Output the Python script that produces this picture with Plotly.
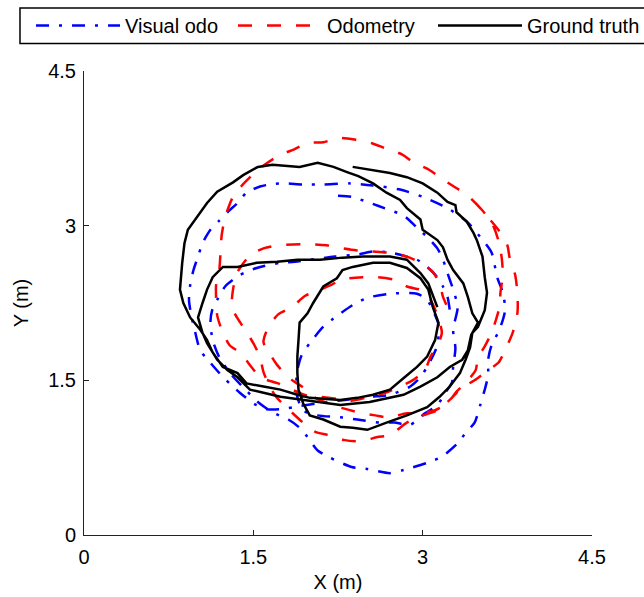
import plotly.graph_objects as go

# ---------------- data (metres) ----------------
vo_x = [2.25, 2.37, 2.51, 2.71, 2.83, 2.95, 3.04, 3.13, 3.18, 3.22, 3.27, 3.31, 3.27, 3.29, 3.27, 3.26,
        3.20, 3.13, 3.02, 2.89, 2.75, 2.62, 2.42, 2.29, 2.07, 1.94, 1.89, 1.88, 1.89, 1.93, 2.00, 2.12,
        2.21, 2.38, 2.51, 2.71, 2.95, 3.04, 3.09, 3.14, 3.13, 3.06, 2.98, 2.89, 2.71, 2.53, 2.31, 2.09,
        1.91, 1.74, 1.62, 1.51, 1.38, 1.29, 1.20, 1.12, 1.03, 0.98, 0.95, 0.93, 0.94, 0.97, 1.01, 1.05,
        1.12, 1.19, 1.27, 1.36, 1.44, 1.56, 1.65, 1.76, 1.94, 2.12, 2.36, 2.56, 2.80, 3.00, 3.22, 3.39,
        3.51, 3.61, 3.66, 3.71, 3.73, 3.68, 3.61, 3.58, 3.58, 3.55, 3.51, 3.46, 3.38, 3.31, 3.17, 3.04,
        2.83, 2.71, 2.51, 2.37, 2.18, 2.07, 1.98, 1.91, 1.81, 1.67, 1.54, 1.43, 1.31, 1.20, 1.14, 1.12,
        1.14, 1.19, 1.25, 1.38, 1.53, 1.74, 1.87, 2.22, 2.42, 2.56, 2.71, 2.86, 2.95, 3.04, 3.13, 3.18,
        3.22, 3.24]
vo_y = [3.29, 3.28, 3.23, 3.15, 3.10, 2.98, 2.89, 2.78, 2.67, 2.54, 2.38, 2.21, 1.99, 1.81, 1.63, 1.48,
        1.38, 1.26, 1.18, 1.07, 1.09, 1.09, 1.12, 1.14, 1.16, 1.21, 1.34, 1.47, 1.60, 1.75, 1.86, 2.02,
        2.10, 2.23, 2.30, 2.34, 2.34, 2.28, 2.18, 2.04, 1.84, 1.67, 1.53, 1.44, 1.36, 1.34, 1.31, 1.28,
        1.25, 1.22, 1.22, 1.27, 1.38, 1.47, 1.57, 1.67, 1.79, 1.99, 2.13, 2.28, 2.42, 2.57, 2.70, 2.83,
        2.96, 3.04, 3.13, 3.22, 3.32, 3.38, 3.40, 3.41, 3.40, 3.40, 3.41, 3.39, 3.35, 3.28, 3.17, 3.04,
        2.89, 2.74, 2.50, 2.35, 2.18, 1.99, 1.84, 1.70, 1.55, 1.41, 1.26, 1.09, 0.99, 0.89, 0.76, 0.70,
        0.63, 0.60, 0.64, 0.66, 0.75, 0.82, 0.95, 1.04, 1.12, 1.19, 1.29, 1.41, 1.55, 1.72, 1.89, 2.07,
        2.20, 2.30, 2.41, 2.52, 2.59, 2.64, 2.65, 2.70, 2.72, 2.75, 2.74, 2.70, 2.67, 2.60, 2.50, 2.41,
        2.31, 2.18]

od_x = [3.47, 3.55, 3.62, 3.67, 3.70, 3.71, 3.69, 3.68, 3.65, 3.61, 3.55, 3.49, 3.47, 3.40, 3.30, 3.22,
        3.11, 2.96, 2.86, 2.69, 2.58, 2.43, 2.29, 2.18, 2.05, 1.93, 1.82, 1.71, 1.65, 1.59, 1.63, 1.72,
        1.84, 1.96, 2.05, 2.18, 2.29, 2.47, 2.60, 2.77, 2.86, 3.00, 3.07, 3.13, 3.17, 3.13, 3.07, 3.02,
        2.91, 2.80, 2.67, 2.53, 2.36, 2.24, 2.09, 1.98, 1.82, 1.72, 1.56, 1.49, 1.38, 1.29, 1.22, 1.18,
        1.17, 1.17, 1.20, 1.21, 1.22, 1.25, 1.32, 1.40, 1.51, 1.60, 1.74, 1.84, 1.98, 2.12, 2.27, 2.42,
        2.55, 2.67, 2.82, 2.91, 3.06, 3.15, 3.29, 3.39, 3.51, 3.58, 3.67, 3.75, 3.77, 3.82, 3.84, 3.84,
        3.80, 3.75, 3.67, 3.58, 3.46, 3.35, 3.24, 3.13, 2.98, 2.86, 2.71, 2.60, 2.45, 2.31, 2.16, 2.05,
        1.94, 1.84, 1.71, 1.65, 1.59, 1.56, 1.51, 1.44, 1.36, 1.31, 1.32, 1.36, 1.47, 1.59, 1.74, 2.00,
        2.15, 2.29, 2.42, 2.56, 2.68, 2.86, 2.98, 3.09, 3.15, 3.18, 3.22]
od_y = [3.22, 3.12, 3.01, 2.86, 2.69, 2.52, 2.36, 2.21, 2.09, 1.96, 1.83, 1.72, 1.60, 1.50, 1.39, 1.28,
        1.21, 1.18, 1.18, 1.14, 1.16, 1.19, 1.23, 1.27, 1.33, 1.44, 1.52, 1.65, 1.75, 1.87, 2.01, 2.14,
        2.21, 2.32, 2.36, 2.42, 2.48, 2.50, 2.50, 2.47, 2.41, 2.37, 2.28, 2.13, 1.96, 1.84, 1.73, 1.60,
        1.50, 1.44, 1.38, 1.34, 1.30, 1.32, 1.34, 1.35, 1.42, 1.47, 1.53, 1.62, 1.77, 1.84, 1.99, 2.13,
        2.30, 2.42, 2.59, 2.76, 2.91, 3.08, 3.28, 3.39, 3.51, 3.59, 3.69, 3.73, 3.80, 3.81, 3.85, 3.83,
        3.80, 3.75, 3.69, 3.62, 3.54, 3.47, 3.37, 3.30, 3.17, 3.08, 2.96, 2.81, 2.69, 2.52, 2.33, 2.16,
        1.97, 1.84, 1.67, 1.60, 1.50, 1.43, 1.31, 1.21, 1.15, 1.09, 0.97, 0.95, 0.91, 0.92, 0.97, 1.00,
        1.09, 1.19, 1.33, 1.43, 1.58, 1.72, 1.84, 1.97, 2.10, 2.21, 2.38, 2.55, 2.71, 2.78, 2.81, 2.82,
        2.81, 2.78, 2.76, 2.75, 2.74, 2.70, 2.64, 2.55, 2.44, 2.31, 2.21]

gt_x = [2.38, 2.56, 2.71, 2.86, 3.00, 3.13, 3.22, 3.29, 3.30, 3.39, 3.45, 3.48, 3.53, 3.55, 3.57, 3.55,
        3.49, 3.44, 3.42, 3.38, 3.33, 3.24, 3.15, 3.04, 2.86, 2.68, 2.51, 2.38, 2.27, 2.12, 2.00, 1.94,
        1.90, 1.89, 1.89, 1.90, 1.91, 1.98, 2.03, 2.12, 2.24, 2.29, 2.38, 2.56, 2.71, 2.86, 2.98, 3.05,
        3.09, 3.14, 3.11, 3.04, 2.95, 2.84, 2.71, 2.56, 2.42, 2.27, 2.00, 1.89, 1.74, 1.59, 1.44, 1.36,
        1.23, 1.14, 1.09, 1.03, 0.94, 0.88, 0.85, 0.87, 0.89, 0.92, 1.00, 1.09, 1.18, 1.32, 1.41, 1.54,
        1.67, 1.91, 2.07, 2.21, 2.33, 2.43, 2.56, 2.68, 2.80, 2.86, 2.98, 3.00, 3.13, 3.18, 3.22, 3.27,
        3.36, 3.40, 3.44, 3.49, 3.43, 3.40, 3.35, 3.24, 3.13, 2.98, 2.83, 2.71, 2.53, 2.27, 1.94, 1.74,
        1.59, 1.47, 1.36, 1.27, 1.18, 1.09, 1.05, 1.01, 1.05, 1.09, 1.14, 1.23, 1.36, 1.53, 1.71, 1.89,
        2.09, 2.29, 2.47, 2.71, 2.86, 2.98, 3.05, 3.13]
gt_y = [3.57, 3.54, 3.51, 3.47, 3.41, 3.32, 3.23, 3.20, 3.13, 3.04, 2.93, 2.86, 2.70, 2.50, 2.35, 2.18,
        2.02, 1.96, 1.82, 1.70, 1.57, 1.44, 1.34, 1.24, 1.16, 1.09, 1.02, 1.04, 1.05, 1.12, 1.16, 1.28,
        1.41, 1.57, 1.73, 1.89, 2.06, 2.15, 2.25, 2.41, 2.49, 2.57, 2.60, 2.64, 2.64, 2.59, 2.49, 2.38,
        2.21, 2.06, 1.89, 1.73, 1.63, 1.53, 1.41, 1.36, 1.33, 1.31, 1.33, 1.36, 1.41, 1.44, 1.47, 1.57,
        1.63, 1.77, 1.89, 1.99, 2.11, 2.25, 2.38, 2.64, 2.83, 2.96, 3.08, 3.22, 3.33, 3.42, 3.49, 3.57,
        3.59, 3.57, 3.61, 3.57, 3.52, 3.48, 3.41, 3.32, 3.25, 3.17, 3.06, 2.96, 2.86, 2.79, 2.67, 2.57,
        2.44, 2.31, 2.15, 2.06, 1.94, 1.79, 1.70, 1.63, 1.53, 1.44, 1.36, 1.33, 1.29, 1.26, 1.31, 1.34,
        1.38, 1.41, 1.53, 1.60, 1.70, 1.86, 1.96, 2.11, 2.25, 2.38, 2.50, 2.60, 2.60, 2.64, 2.65, 2.67,
        2.67, 2.69, 2.70, 2.70, 2.67, 2.54, 2.44, 2.21]

tick_vals = [0, 1.5, 3, 4.5]
tick_text = ["0", "1.5", "3", "4.5"]
series_names = ["Visual odo", "Odometry", "Ground truth"]

# ---------------- figure ----------------
FONT = "Liberation Sans, Arial, Helvetica, sans-serif"
FS = 20
fig = go.Figure()
fig.add_trace(go.Scatter(x=vo_x, y=vo_y, mode="lines", name=series_names[0], legend="legend",
                         line=dict(color="#0000ff", width=2.5, dash="13px,10px,3px,10px",
                                   shape="spline", smoothing=0.7)))
fig.add_trace(go.Scatter(x=od_x, y=od_y, mode="lines", name=series_names[1], legend="legend2",
                         line=dict(color="#ff0000", width=2.5, dash="14px,15px",
                                   shape="spline", smoothing=0.7)))
fig.add_trace(go.Scatter(x=gt_x, y=gt_y, mode="lines", name=series_names[2], legend="legend3",
                         line=dict(color="#000000", width=2.5)))

axis_common = dict(range=[0, 4.5], tickvals=tick_vals, ticktext=tick_text, ticks="inside",
                   ticklen=5, tickcolor="#222", tickwidth=1, showline=True, linecolor="#222",
                   linewidth=1, showgrid=False, zeroline=False, mirror=False,
                   tickfont=dict(family=FONT, size=FS, color="black"))

leg_common = dict(orientation="h", xanchor="left", y=1.140, yanchor="top",
                  borderwidth=0, bgcolor="rgba(0,0,0,0)",
                  font=dict(family=FONT, size=FS, color="black"), itemwidth=84)

fig.update_layout(
    width=644, height=597,
    margin=dict(l=84, r=52, t=71, b=62, autoexpand=False),
    paper_bgcolor="white", plot_bgcolor="white",
    font=dict(family=FONT, size=FS, color="black"),
    xaxis=dict(**axis_common, ticklabelstandoff=4,
               title=dict(text="X (m)", font=dict(family=FONT, size=FS), standoff=7)),
    yaxis=dict(**axis_common, ticklabelstandoff=3,
               title=dict(text="Y (m)", font=dict(family=FONT, size=FS), standoff=14)),
    showlegend=True,
    legend=dict(**leg_common, x=-0.1043),
    legend2=dict(**leg_common, x=0.2933),
    legend3=dict(**leg_common, x=0.687),
    shapes=[dict(type="rect", xref="paper", yref="paper", x0=-0.126, x1=1.16,
                 y0=1.0595, y1=1.1358, line=dict(color="black", width=1.5),
                 fillcolor="rgba(0,0,0,0)", layer="above")],
)

fig.write_html("out.html")
